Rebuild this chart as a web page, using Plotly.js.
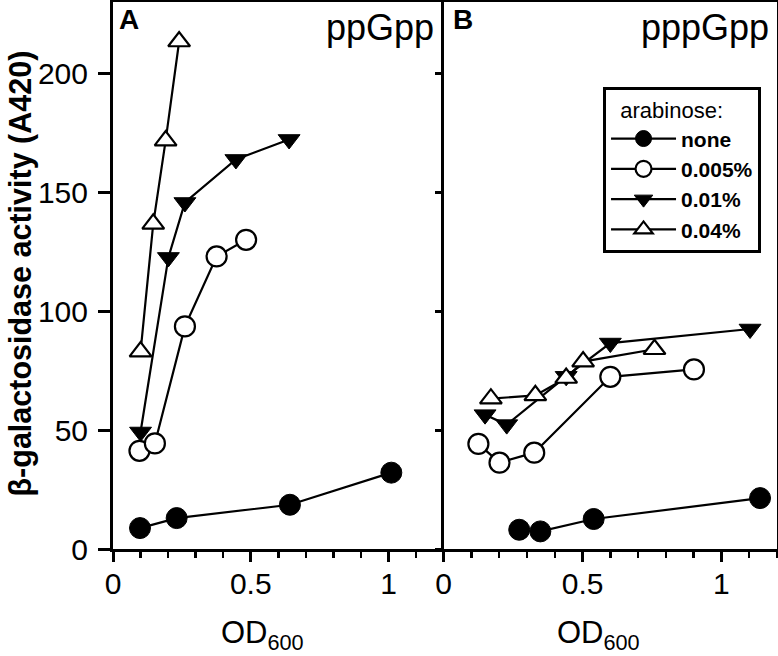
<!DOCTYPE html>
<html><head><meta charset="utf-8">
<script src="https://cdn.plot.ly/plotly-3.0.1.min.js"></script>
<style>html,body{margin:0;padding:0;background:#fff}#chart{width:778px;height:656px}</style>
</head><body><div id="chart"></div>
<script>
// Series names (arabinose concentration)
const seriesNames = ['none', '0.005%', '0.01%', '0.04%'];

// Panel A: ppGpp
const aNoneX = [0.098, 0.231, 0.642, 1.01];
const aNoneY = [8.8, 13, 18.6, 32.1];
const a005X = [0.096, 0.152, 0.261, 0.376, 0.483];
const a005Y = [41.3, 44.4, 93.6, 123, 130];
const a01X = [0.10, 0.201, 0.261, 0.446, 0.639];
const a01Y = [49.2, 122.6, 145.7, 163.8, 172.2];
const a04X = [0.10, 0.146, 0.191, 0.24];
const a04Y = [83, 136.7, 171.7, 213.4];

// Panel B: pppGpp
const bNoneX = [0.272, 0.348, 0.54, 1.139];
const bNoneY = [8.1, 7.4, 12.6, 21.4];
const b005X = [0.125, 0.201, 0.326, 0.60, 0.901];
const b005Y = [44.2, 36.3, 40.5, 72.4, 75.5];
const b01X = [0.149, 0.227, 0.441, 0.60, 1.103];
const b01Y = [56.5, 52.3, 72.6, 86.6, 92.5];
const b04X = [0.17, 0.33, 0.441, 0.502, 0.759];
const b04Y = [63.2, 64.6, 71.9, 78.8, 84];

const xTickVals = [0, 0.5, 1];
const xTickText = ['0', '0.5', '1'];
const yTickVals = [0, 50, 100, 150, 200];
const yTickText = ['0', '50', '100', '150', '200'];

const styles = [
  {symbol: 'circle', color: '#000', lw: 1, size: 21},
  {symbol: 'circle', color: '#fff', lw: 2.2, size: 20},
  {symbol: 'triangle-down', color: '#000', lw: 1, size: 19},
  {symbol: 'triangle-up', color: '#fff', lw: 2.2, size: 19}
];

function mk(x, y, i, xa, ya, show) {
  const s = styles[i];
  return {
    x: x, y: y, xaxis: xa, yaxis: ya, type: 'scatter', mode: 'lines+markers',
    name: seriesNames[i], showlegend: show, cliponaxis: false,
    line: {color: '#000', width: 2.2},
    marker: {symbol: s.symbol, size: s.size, color: s.color, line: {color: '#000', width: s.lw}}
  };
}

const data = [
  mk(aNoneX, aNoneY, 0, 'x', 'y', false),
  mk(a005X, a005Y, 1, 'x', 'y', false),
  mk(a01X, a01Y, 2, 'x', 'y', false),
  mk(a04X, a04Y, 3, 'x', 'y', false),
  mk(bNoneX, bNoneY, 0, 'x2', 'y2', true),
  mk(b005X, b005Y, 1, 'x2', 'y2', true),
  mk(b01X, b01Y, 2, 'x2', 'y2', true),
  mk(b04X, b04Y, 3, 'x2', 'y2', true)
];

const FONT = 'Liberation Sans, Arial, Helvetica, sans-serif';
const xBase = {
  range: [0, 1.2], showgrid: false, zeroline: false,
  showline: true, linecolor: '#000', linewidth: 3, mirror: true,
  ticks: 'outside', ticklen: 10, tickwidth: 3, tickcolor: '#000',
  tickvals: xTickVals, ticktext: xTickText, ticklabelstandoff: -4,
  tickfont: {family: FONT, size: 30, color: '#000'},
  minor: {dtick: 0.1, tick0: 0, ticks: 'outside', ticklen: 6, tickwidth: 2.5, tickcolor: '#000', showgrid: false},
  fixedrange: true
};
const yBase = {
  range: [0, 230], showgrid: false, zeroline: false,
  showline: true, linecolor: '#000', linewidth: 3,
  tickvals: yTickVals, ticktext: yTickText, tickcolor: '#000', tickwidth: 3,
  tickfont: {family: FONT, size: 30, color: '#000'},
  fixedrange: true
};

const layout = {
  width: 778, height: 656,
  margin: {l: 113, r: 1, t: 2, b: 107},
  paper_bgcolor: '#fff', plot_bgcolor: '#fff',
  font: {family: FONT, color: '#000'},
  xaxis: Object.assign({}, xBase, {domain: [0, 0.498], anchor: 'y'}),
  xaxis2: Object.assign({}, xBase, {domain: [0.498, 1], anchor: 'y2'}),
  yaxis: Object.assign({}, yBase, {anchor: 'x', ticks: 'outside', ticklen: 12, mirror: false, ticklabelstandoff: 4}),
  yaxis2: Object.assign({}, yBase, {anchor: 'x2', ticks: 'outside', ticklen: 6, mirror: true, showticklabels: false}),
  yaxis3: Object.assign({}, yBase, {anchor: 'x2', overlaying: 'y2', ticks: 'inside', ticklen: 6, showline: false, showticklabels: false}),
  showlegend: true,
  legend: {
    x: 0.738, y: 0.845, xanchor: 'left', yanchor: 'top',
    bgcolor: '#fff', bordercolor: '#000', borderwidth: 3,
    font: {family: FONT, size: 21, color: '#000', weight: 'bold'},
    title: {text: '\u00a0\u00a0arabinose:', font: {family: FONT, size: 22, color: '#000', weight: 'normal'}},
    itemwidth: 65, traceorder: 'normal'
  },
  annotations: [
    {xref: 'paper', yref: 'paper', x: 0.006, y: 1.0, xanchor: 'left', yanchor: 'top', showarrow: false,
     text: '<b>A</b>', font: {family: FONT, size: 28, color: '#000'}},
    {xref: 'paper', yref: 'paper', x: 0.509, y: 1.0, xanchor: 'left', yanchor: 'top', showarrow: false,
     text: '<b>B</b>', font: {family: FONT, size: 28, color: '#000'}},
    {xref: 'paper', yref: 'paper', x: 0.486, y: 0.995, xanchor: 'right', yanchor: 'top', showarrow: false,
     text: 'ppGpp', font: {family: FONT, size: 36, color: '#000'}},
    {xref: 'paper', yref: 'paper', x: 0.991, y: 0.995, xanchor: 'right', yanchor: 'top', showarrow: false,
     text: 'pppGpp', font: {family: FONT, size: 36, color: '#000'}},
    {xref: 'paper', yref: 'paper', x: (262 - 113) / 664, y: -0.157, xanchor: 'center', yanchor: 'middle', showarrow: false,
     text: 'OD<sub>600</sub>', font: {family: FONT, size: 31, color: '#000'}},
    {xref: 'paper', yref: 'paper', x: (598 - 113) / 664, y: -0.157, xanchor: 'center', yanchor: 'middle', showarrow: false,
     text: 'OD<sub>600</sub>', font: {family: FONT, size: 31, color: '#000'}},
    {xref: 'paper', yref: 'paper', x: (20 - 113) / 664, y: (549 - 273.5) / 547, xanchor: 'center', yanchor: 'middle', showarrow: false,
     textangle: -90, text: '<b>β-galactosidase activity (A420)</b>', font: {family: FONT, size: 30.5, color: '#000'}}
  ]
};

Plotly.newPlot('chart', data, layout, {displayModeBar: false, staticPlot: true});
</script>
</body></html>
